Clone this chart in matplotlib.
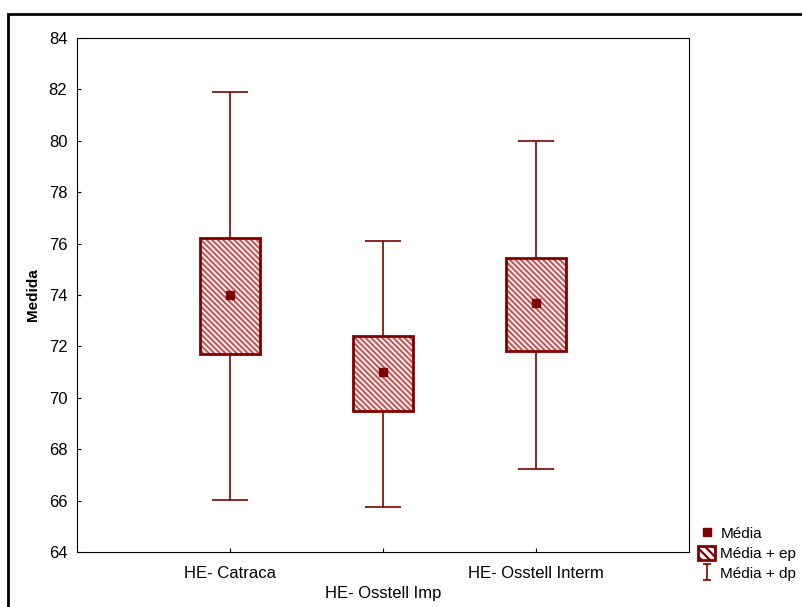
import matplotlib.pyplot as plt
import numpy as np
from matplotlib.patches import Rectangle
from matplotlib.lines import Line2D
from matplotlib.path import Path

plt.rcParams['font.family'] = ['Liberation Sans', 'DejaVu Sans']
plt.rcParams['hatch.linewidth'] = 1.6

# dados
grupos = ['HE- Catraca', 'HE- Osstell Imp', 'HE- Osstell Interm']
media = [74.0, 71.0, 73.68]
ep_sup = [76.22, 72.4, 75.44]
ep_inf = [71.7, 69.48, 71.82]
dp_sup = [81.9, 76.12, 80.0]
dp_inf = [66.02, 65.75, 67.22]

verm = '#800000'
hach = '#c85a5a'

fig = plt.figure(figsize=(8.03, 6.07), dpi=100)
# borda externa
fig.patches.append(Rectangle((8 / 803, -0.1), 1.2, (607 - 14) / 607 + 0.1,
                             transform=fig.transFigure, fill=False,
                             edgecolor='black', linewidth=2))
ax = fig.add_axes([77 / 803, 55 / 607, 612 / 803, 514 / 607])

x = np.arange(len(grupos))
media = np.array(media)
ep_sup = np.array(ep_sup)
ep_inf = np.array(ep_inf)
dp_sup = np.array(dp_sup)
dp_inf = np.array(dp_inf)

ax.errorbar(x, media, yerr=[media - dp_inf, dp_sup - media], fmt='none',
            ecolor=verm, elinewidth=1.2, capsize=13, capthick=1.2, zorder=1)
ax.bar(x, ep_sup - ep_inf, bottom=ep_inf, width=0.39, color='white',
       edgecolor=hach, hatch='\\' * 6, linewidth=0, zorder=2)
ax.bar(x, ep_sup - ep_inf, bottom=ep_inf, width=0.39, fill=False,
       edgecolor=verm, linewidth=2, zorder=3)
ax.plot(x, media, 's', color=verm, markersize=6, zorder=4)

ax.set_xlim(-1, 3)
ax.set_ylim(64, 84)
ax.set_yticks(np.arange(64, 85, 2))
ax.set_xticks(x)
ax.set_xticklabels(['HE- Catraca', '\nHE- Osstell Imp', 'HE- Osstell Interm'],
                   linespacing=1.4)
ax.tick_params(direction='in', length=3, labelsize=12, colors='black')
ax.tick_params(axis='y', pad=7)
ax.tick_params(axis='x', pad=10)
ax.set_ylabel('Medida', fontsize=11, fontweight='bold', labelpad=6)

# simbolo do desvio padrao
ibeam = Path([(-0.5, 1), (0.5, 1), (0, 1), (0, -1), (-0.5, -1), (0.5, -1)],
             [Path.MOVETO, Path.LINETO, Path.MOVETO, Path.LINETO,
              Path.MOVETO, Path.LINETO])
h_media = Line2D([], [], marker='s', color=verm, linestyle='none', markersize=6)
h_ep = Rectangle((0, 0), 1, 1, facecolor='white', edgecolor=verm,
                 hatch='\\' * 4, linewidth=2)
h_dp = Line2D([], [], marker=ibeam, color=verm, linestyle='none',
              markersize=12, markeredgewidth=1.2, fillstyle='none')
ax.legend([h_media, h_ep, h_dp], ['Média', 'Média + ep', 'Média + dp'],
          loc='lower left', bbox_to_anchor=(1.0, -0.075), frameon=False,
          fontsize=11, handlelength=1.1, handleheight=1.1, handletextpad=0.35,
          labelspacing=0.3, borderaxespad=0.2)

fig.savefig('out.png', dpi=100)
